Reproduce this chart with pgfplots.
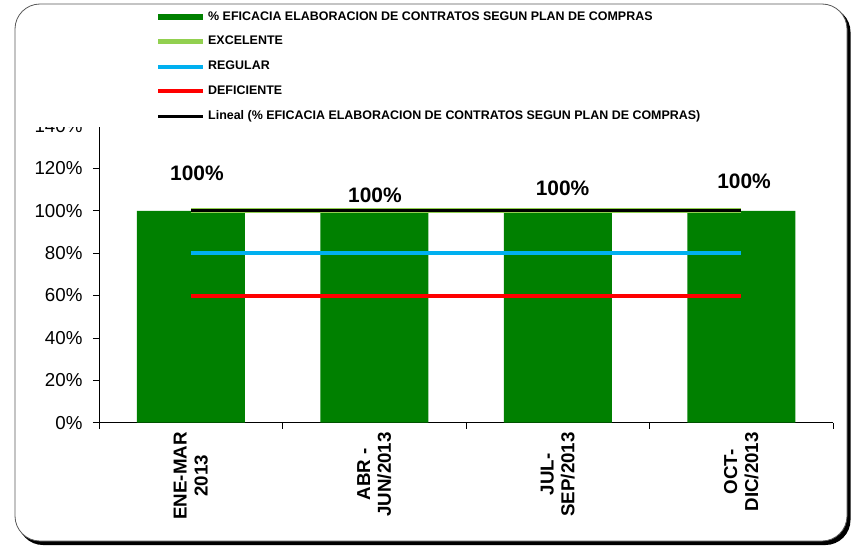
\documentclass[border=0pt]{standalone}
\usepackage{fontspec}
\setmainfont{Liberation Sans}
\usepackage{pgfplots}
\pgfplotsset{compat=1.18}
\definecolor{bargreen}{HTML}{008000}
\definecolor{exgreen}{HTML}{92D050}
\definecolor{regblue}{HTML}{00B0F0}
\definecolor{defred}{HTML}{FF0000}
\definecolor{framegray}{HTML}{595959}
\begin{document}
\begin{tikzpicture}
\useasboundingbox (0bp,0bp) rectangle (851bp,-546bp);
\fill[black, rounded corners=25bp] (18bp,-7bp) rectangle (850.5bp,-545bp);
\filldraw[fill=white, draw=framegray, line width=0.8bp, rounded corners=25bp] (15bp,-4bp) rectangle (847bp,-541bp);
\begin{axis}[
  at={(99bp,-422.7bp)}, anchor=south west,
  width=734bp, height=296.7bp, scale only axis,
  xmin=-0.5, xmax=3.5, ymin=0, ymax=140,
  axis lines*=left,
  axis line style={black, line width=0.8bp},
  clip=false,
  /pgf/number format/assume math mode=true,
  ytick={0,20,...,140},
  yticklabel={\pgfmathprintnumber{\tick}\%},
  yticklabel style={font=\fontsize{18.8}{21}\selectfont, xshift=-7bp},
  xtick={0,1,2,3},
  xticklabels={{ENE-MAR\\2013},{ABR -\\JUN/2013},{JUL-\\SEP/2013},{OCT-\\DIC/2013}},
  xticklabel style={rotate=90, anchor=east, align=center, font=\fontsize{18.8}{21}\selectfont\bfseries},
  minor xtick={-0.5,0.5,1.5,2.5,3.5},
  major x tick style={draw=none},
  tick align=outside,
  major tick length=6bp, minor tick length=6bp,
  every tick/.style={black, line width=0.8bp},
  legend style={at={(axis description cs:0.0763,1.3876)}, anchor=north west, draw=none, fill=none,
    font=\fontsize{12.5}{14}\selectfont\bfseries, row sep=12.7bp, inner sep=0bp,
    nodes={text height=9bp, text depth=3bp, inner ysep=0bp}},
  legend cell align=left,
  legend image code/.code={\draw[#1] (0bp,0bp) -- (45bp,0bp);},
]
\addplot[ybar, bar width=108bp, fill=bargreen, draw=none,
  legend image code/.code={\draw[line width=6bp, bargreen] (0bp,0bp) -- (45bp,0bp);}]
  coordinates {(0,100) (1,100) (2,100) (3,100)};
\addlegendentry{\% EFICACIA ELABORACION DE CONTRATOS SEGUN PLAN DE COMPRAS}
\addplot[exgreen, line width=5bp] coordinates {(0,100) (1,100) (2,100) (3,100)};
\addlegendentry{EXCELENTE}
\addplot[regblue, line width=4bp] coordinates {(0,80) (1,80) (2,80) (3,80)};
\addlegendentry{REGULAR}
\addplot[defred, line width=4bp] coordinates {(0,60) (1,60) (2,60) (3,60)};
\addlegendentry{DEFICIENTE}
\addplot[black, line width=3bp] coordinates {(0,100) (1,100) (2,100) (3,100)};
\addlegendentry{Lineal (\% EFICACIA ELABORACION DE CONTRATOS SEGUN PLAN DE COMPRAS)}
\node[font=\fontsize{21}{24}\selectfont\bfseries] at (axis cs:0.034,117.5) {100\%};
\node[font=\fontsize{21}{24}\selectfont\bfseries] at (axis cs:1.004,107.1) {100\%};
\node[font=\fontsize{21}{24}\selectfont\bfseries] at (axis cs:2.026,110.7) {100\%};
\node[font=\fontsize{21}{24}\selectfont\bfseries] at (axis cs:3.015,113.8) {100\%};
\end{axis}
\fill[white] (25bp,-100bp) rectangle (148bp,-126.5bp);
\end{tikzpicture}
\end{document}
